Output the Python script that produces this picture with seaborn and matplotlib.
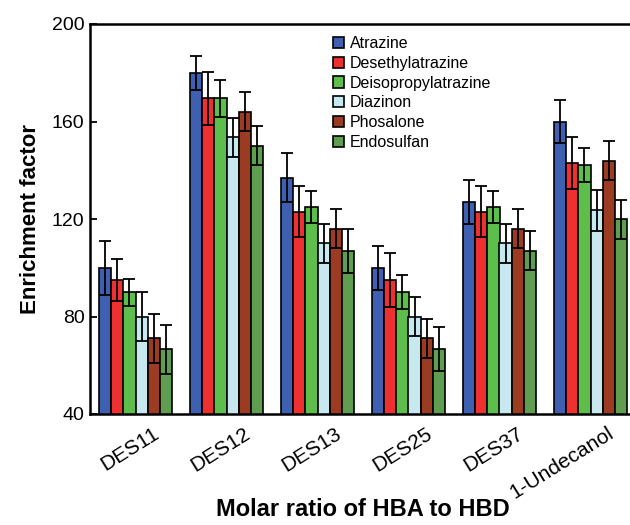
import numpy as np
import pandas as pd
import seaborn as sns
import matplotlib.pyplot as plt
import matplotlib.transforms as mtransforms

solvents = ["DES11", "DES12", "DES13", "DES25", "DES37", "1-Undecanol"]
analytes = ["Atrazine", "Desethylatrazine", "Deisopropylatrazine",
            "Diazinon", "Phosalone", "Endosulfan"]

# enrichment factor, one list per analyte (order follows solvents)
atrazine = [100, 180, 137, 100, 127, 160]
desethyl = [95, 169.5, 123, 95, 123, 143]
deisopropyl = [90, 169.5, 125, 90, 125, 142]
diazinon = [80, 153.5, 110, 80, 110, 123.5]
phosalone = [71, 164, 116, 71, 116, 144]
endosulfan = [66.5, 150, 107, 66.5, 107, 120]

# standard deviations
atrazine_sd = [11, 7, 10, 9, 9, 9]
desethyl_sd = [8.5, 11, 10.5, 11, 10.5, 10.5]
deisopropyl_sd = [5.5, 7.5, 6.5, 7, 6.5, 7]
diazinon_sd = [10, 8, 8, 8, 8, 8.5]
phosalone_sd = [10, 8, 8, 8, 8, 8]
endosulfan_sd = [10, 8, 9, 9, 8, 8]

colors = ["#3F5FB0", "#EE3030", "#5DBE4B", "#C8E8F0", "#9A3B22", "#5F9E50"]

values = [atrazine, desethyl, deisopropyl, diazinon, phosalone, endosulfan]
sds = [atrazine_sd, desethyl_sd, deisopropyl_sd, diazinon_sd, phosalone_sd, endosulfan_sd]

rows = []
for a, vals, errs in zip(analytes, values, sds):
    for s, v, e in zip(solvents, vals, errs):
        rows.append({"solvent": s, "analyte": a, "ef": v, "sd": e})
df = pd.DataFrame(rows)

sns.set_style("ticks")
plt.rcParams["font.family"] = ["Liberation Sans", "DejaVu Sans"]
plt.rcParams["text.color"] = "black"
plt.rcParams["axes.labelcolor"] = "black"
plt.rcParams["xtick.color"] = "black"
plt.rcParams["ytick.color"] = "black"
plt.rcParams["axes.edgecolor"] = "black"

fig = plt.figure(figsize=(6.3, 5.25), dpi=100)
ax = fig.add_axes([90 / 630, 1 - 414 / 525, 546 / 630, 390 / 525])

sns.barplot(data=df, x="solvent", y="ef", hue="analyte", order=solvents,
            hue_order=analytes, palette=colors, errorbar=None, width=0.8,
            edgecolor="black", linewidth=1.2, saturation=1, ax=ax)

# error bars on top of each bar
for cont, a in zip(ax.containers, analytes):
    sub = df[df.analyte == a].set_index("solvent").loc[solvents]
    xs = [p.get_x() + p.get_width() / 2 for p in cont.patches]
    ax.errorbar(xs, sub.ef.values, yerr=sub.sd.values, fmt="none",
                ecolor="black", elinewidth=1.3, capsize=4.5, capthick=1.3, zorder=5)

ax.set_ylim(40, 200)
ax.set_yticks([40, 80, 120, 160, 200])
ax.set_xlim(-0.5, 5.5)
ax.tick_params(axis="y", direction="in", length=5, width=1.3, labelsize=14, pad=4)
ax.tick_params(axis="x", length=0, labelsize=15, pad=7)
for sp in ax.spines.values():
    sp.set_linewidth(1.8)

offset = mtransforms.ScaledTranslation(0.17, 0, fig.dpi_scale_trans)
for lab in ax.get_xticklabels():
    lab.set_rotation(32)
    lab.set_ha("right")
    lab.set_rotation_mode("anchor")
    lab.set_transform(lab.get_transform() + offset)

ax.set_ylabel("Enrichment factor", fontsize=16, fontweight="bold", labelpad=8)
ax.set_xlabel("Molar ratio of HBA to HBD", fontsize=17, fontweight="bold")
ax.xaxis.set_label_coords(0.5, -0.215)

ax.legend(loc="upper left", bbox_to_anchor=(333 / 630, 1 - 36 / 525),
          bbox_transform=fig.transFigure, frameon=False, fontsize=11.5,
          handlelength=0.7, handleheight=0.7, handletextpad=0.35,
          labelspacing=0.3, borderpad=0, borderaxespad=0)

fig.savefig("out.png", dpi=100)
